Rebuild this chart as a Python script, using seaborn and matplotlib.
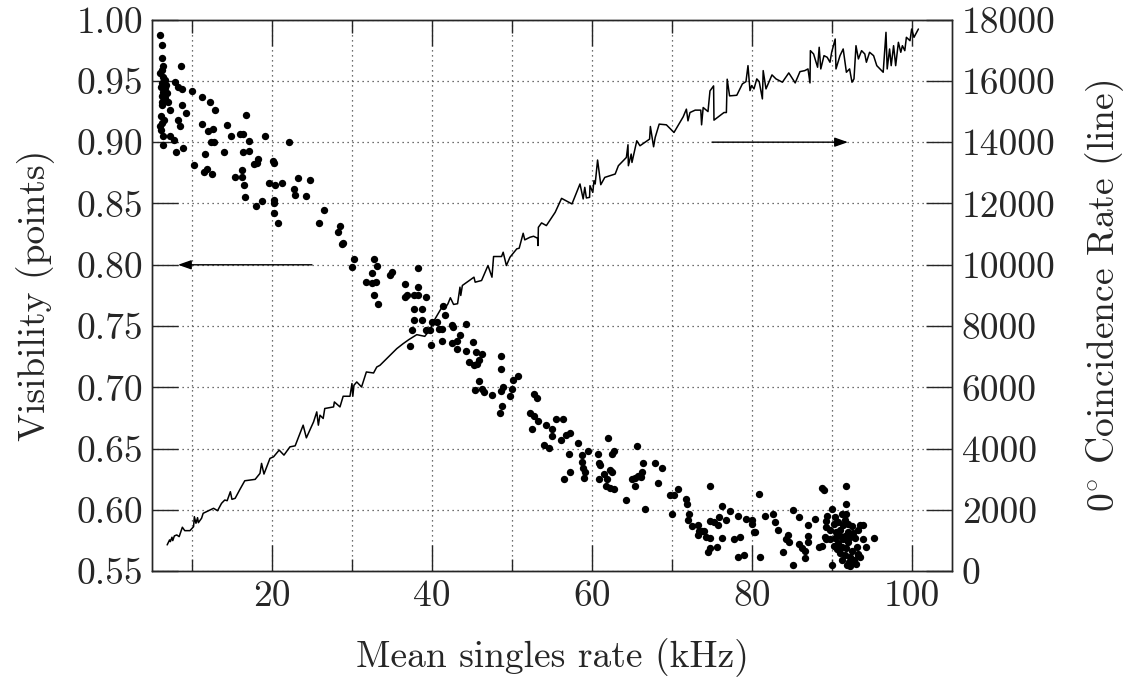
import matplotlib
matplotlib.use("Agg")
import matplotlib.pyplot as plt
import seaborn as sns
from matplotlib.ticker import MultipleLocator, FormatStrFormatter

# Visibility (points)
vis_x = [6.0, 6.3, 6.3, 6.4, 6.2, 6.0, 6.4, 6.6, 6.3, 6.1, 6.6, 6.8, 6.4, 6.2, 6.6, 6.2, 6.5, 6.2, 6.1, 6.5,
         6.2, 6.0, 6.1, 6.4, 6.4, 7.0, 7.25, 6.9, 7.3, 7.7, 8.6, 7.9, 8.3, 8.8, 10.0, 11.2, 12.2, 8.7, 9.3, 12.9,
         8.3, 8.5, 11.2, 12.6, 12.0, 14.4, 16.8, 14.9, 16.0, 16.4, 19.1, 8.0, 8.9, 12.4, 12.7, 14.0, 17.1, 16.4, 17.1, 11.6,
         10.25, 11.5, 11.9, 12.5, 15.4, 16.3, 16.3, 17.75, 18.1, 18.3, 20.1, 20.2, 16.5, 16.6, 18.0, 18.7, 19.6, 20.4, 21.2, 20.2,
         20.3, 20.25, 20.7, 22.75, 22.9, 23.3, 24.3, 24.7, 22.1, 26.5, 25.9, 28.2, 28.5, 28.8, 28.9, 30.3, 30.0, 32.8, 33.1, 32.5,
         31.7, 32.5, 33.0, 32.7, 34.75, 35.0, 36.6, 38.2, 38.2, 36.6, 36.9, 37.7, 38.3, 39.2, 33.2, 37.8, 38.8, 37.75, 38.8, 37.5,
         37.2, 39.3, 39.75, 39.9, 40.0, 40.6, 41.4, 41.6, 40.9, 41.3, 41.25, 42.5, 42.6, 42.5, 43.1, 43.1, 43.5, 44.3, 44.3, 45.1,
         45.5, 46.2, 44.6, 45.25, 45.6, 45.9, 48.6, 48.6, 45.9, 45.4, 46.2, 46.5, 47.5, 48.6, 48.9, 48.8, 48.5, 50.1, 50.8, 50.0,
         49.75, 52.25, 52.8, 53.1, 52.7, 53.2, 52.5, 54.25, 55.0, 55.5, 56.4, 55.0, 56.1, 56.8, 57.25, 54.0, 54.6, 57.1, 58.3, 57.25,
         56.5, 58.8, 58.8, 59.5, 58.9, 59.1, 59.0, 60.7, 60.9, 61.0, 62.0, 62.7, 62.5, 61.5, 60.9, 61.9, 61.8, 62.25, 62.8, 62.2,
         62.5, 64.2, 65.6, 66.4, 65.0, 65.4, 65.7, 66.1, 66.3, 65.4, 66.6, 67.9, 68.2, 68.8, 69.7, 70.3, 70.8, 70.0, 71.8, 71.9,
         72.1, 72.0, 72.5, 73.3, 73.4, 73.7, 74.0, 73.3, 74.3, 74.75, 74.7, 74.7, 75.25, 75.8, 75.9, 76.2, 76.7, 77.2, 78.2, 76.25,
         75.6, 74.7, 74.5, 77.8, 78.5, 78.2, 79.0, 80.9, 79.2, 80.0, 79.96, 80.25, 80.4, 81.0, 81.6, 82.6, 82.9, 83.3, 83.9, 84.5,
         84.25, 84.6, 85.1, 85.1, 85.9, 85.9, 86.2, 86.6, 86.6, 87.0, 87.0, 86.95, 87.9, 88.4, 88.7, 88.8, 89.0, 89.4, 89.3, 89.3,
         89.96, 90.0, 91.8, 91.7, 93.5, 93.9, 93.9, 95.3, 93.3, 91.9, 92.3, 93.0,
         91.2, 91.75, 90.2, 91.4, 92.0, 91.0, 93.3, 89.1, 89.75, 90.4, 91.0, 91.6, 92.25, 92.9, 90.2, 90.6, 91.2, 91.8, 92.5, 93.1,
         91.0, 91.6, 92.25, 93.3, 92.8, 93.5, 92.0, 92.6, 90.8, 89.75, 90.4, 91.6, 92.5, 90.75, 92.0, 91.4, 90.5, 91.25, 92.1, 89.25,
         94.25]
vis_y = [0.987, 0.979, 0.969, 0.962, 0.959, 0.956, 0.953, 0.951, 0.948, 0.945, 0.944, 0.947, 0.941, 0.938, 0.936, 0.933, 0.935, 0.930, 0.921, 0.918,
         0.916, 0.913, 0.910, 0.905, 0.898, 0.933, 0.926, 0.940, 0.905, 0.902, 0.962, 0.949, 0.945, 0.943, 0.942, 0.937, 0.933, 0.930, 0.924, 0.926,
         0.918, 0.913, 0.915, 0.911, 0.909, 0.914, 0.922, 0.905, 0.907, 0.907, 0.905, 0.892, 0.895, 0.900, 0.900, 0.892, 0.901, 0.892, 0.893, 0.890,
         0.881, 0.876, 0.878, 0.874, 0.872, 0.877, 0.872, 0.882, 0.883, 0.886, 0.885, 0.883, 0.865, 0.855, 0.848, 0.852, 0.867, 0.865, 0.867, 0.853,
         0.850, 0.842, 0.834, 0.862, 0.857, 0.871, 0.856, 0.869, 0.900, 0.845, 0.834, 0.827, 0.832, 0.817, 0.818, 0.805, 0.798, 0.805, 0.799, 0.793,
         0.786, 0.785, 0.786, 0.775, 0.792, 0.794, 0.784, 0.797, 0.782, 0.774, 0.775, 0.775, 0.775, 0.774, 0.768, 0.764, 0.764, 0.755, 0.755, 0.747,
         0.734, 0.747, 0.747, 0.735, 0.753, 0.753, 0.766, 0.759, 0.748, 0.748, 0.738, 0.751, 0.749, 0.736, 0.738, 0.731, 0.743, 0.752, 0.730, 0.737,
         0.729, 0.727, 0.721, 0.718, 0.719, 0.722, 0.726, 0.715, 0.705, 0.698, 0.699, 0.696, 0.694, 0.697, 0.700, 0.685, 0.679, 0.706, 0.709, 0.699,
         0.693, 0.679, 0.695, 0.691, 0.677, 0.673, 0.666, 0.669, 0.666, 0.674, 0.674, 0.660, 0.657, 0.661, 0.663, 0.653, 0.651, 0.646, 0.655, 0.631,
         0.625, 0.645, 0.639, 0.648, 0.634, 0.631, 0.626, 0.646, 0.638, 0.637, 0.659, 0.648, 0.646, 0.629, 0.625, 0.625, 0.620, 0.618, 0.617, 0.633,
         0.631, 0.608, 0.652, 0.638, 0.625, 0.626, 0.628, 0.627, 0.631, 0.620, 0.601, 0.638, 0.622, 0.634, 0.612, 0.612, 0.617, 0.597, 0.609, 0.605,
         0.597, 0.592, 0.587, 0.588, 0.583, 0.583, 0.583, 0.580, 0.578, 0.577, 0.620, 0.591, 0.590, 0.588, 0.594, 0.603, 0.592, 0.599, 0.595, 0.577,
         0.570, 0.569, 0.566, 0.576, 0.578, 0.562, 0.563, 0.613, 0.593, 0.592, 0.589, 0.582, 0.582, 0.562, 0.595, 0.597, 0.590, 0.584, 0.566, 0.580,
         0.576, 0.574, 0.555, 0.600, 0.594, 0.572, 0.569, 0.567, 0.561, 0.588, 0.579, 0.574, 0.593, 0.570, 0.571, 0.618, 0.616, 0.595, 0.591, 0.586,
         0.601, 0.555, 0.620, 0.605, 0.588, 0.588, 0.576, 0.577, 0.563, 0.555, 0.554, 0.556,
         0.597, 0.597, 0.589, 0.588, 0.589, 0.584, 0.584, 0.578, 0.576, 0.577, 0.579, 0.579, 0.578, 0.577, 0.571, 0.568, 0.570, 0.569, 0.567, 0.570,
         0.565, 0.563, 0.562, 0.564, 0.559, 0.562, 0.582, 0.581, 0.590, 0.584, 0.594, 0.592, 0.587, 0.573, 0.574, 0.576, 0.582, 0.559, 0.558, 0.576,
         0.570]

# 0 degree coincidence rate (line)
rate_x = [6.9, 7.2, 7.3, 7.5, 7.6, 7.8, 8.1, 8.4, 8.8, 9.1, 9.75, 10.2, 10.3, 10.5, 10.7, 10.8, 11.2, 11.4, 12.25, 12.7,
          13.2, 13.7, 14.1, 14.4, 14.8, 15.0, 15.4, 16.0, 16.6, 17.9, 18.5, 18.7, 19.0, 19.75, 20.2, 20.9, 21.5, 22.25, 22.9, 23.9,
          24.3, 25.2, 25.6, 25.8, 26.0, 26.4, 26.6, 27.7, 27.8, 28.5, 28.9, 29.75, 30.0, 30.1, 30.25, 30.6, 31.2, 31.8, 32.7, 33.1,
          33.5, 34.75, 35.6, 36.4, 37.1, 38.1, 39.1, 39.75, 40.4, 41.0, 41.3, 41.6, 42.0, 42.3, 42.7, 43.2, 43.5, 43.6, 43.8, 45.25,
          45.4, 46.2, 47.0, 47.5, 47.7, 48.7, 48.9, 49.3, 49.75, 50.6, 50.9, 51.4, 51.6, 52.25, 52.7, 53.2, 53.25, 53.3, 53.7, 54.3,
          55.4, 56.2, 57.5, 58.5, 58.9, 59.1, 59.3, 59.7, 59.75, 60.1, 60.25, 60.4, 60.7, 61.1, 61.6, 62.9, 63.3, 64.3, 64.5, 64.55,
          64.9, 65.0, 65.6, 66.0, 67.2, 67.3, 67.7, 67.9, 68.4, 69.3, 70.25, 71.4, 71.8, 72.0, 72.25, 72.9, 73.6, 73.7, 73.9, 74.5,
          74.75, 75.2, 75.25, 76.5, 76.8, 76.9, 77.2, 78.1, 78.8, 79.25, 79.5, 79.75, 79.96, 80.25, 80.6, 80.9, 81.3, 81.4, 81.75, 82.5,
          83.0, 83.8, 84.6, 85.4, 86.0, 86.6, 87.0, 87.25, 87.3, 87.7, 88.2, 88.4, 88.6, 89.0, 89.4, 89.75, 89.96, 90.4, 90.5, 91.0,
          91.4, 91.8, 92.2, 92.5, 92.75, 93.0, 93.3, 93.7, 94.1, 94.3, 94.7, 95.2, 95.6, 96.4, 96.75, 96.9, 97.2, 97.4, 97.7, 97.96,
          98.3, 98.6, 98.8, 99.1, 99.3, 99.75, 99.96, 100.25, 100.8]
rate_y = [863, 1025, 970, 1113, 1003, 1156, 1188, 1133, 1439, 1328, 1328, 1458, 1784, 1569, 1751, 1588, 1732, 1894, 2002, 2057,
          1979, 2220, 2327, 2305, 2598, 2350, 2383, 2676, 2955, 3001, 3196, 3522, 3174, 3685, 3737, 3955, 3792, 4062, 4095, 4769,
          4355, 4876, 5202, 4769, 5094, 4987, 5312, 5364, 5527, 5364, 5712, 5712, 6126, 5712, 6071, 6178, 6015, 6504, 6471, 6666,
          6722, 7047, 7265, 7428, 7558, 7721, 7666, 7884, 8242, 8512, 8642, 8567, 8730, 8925, 8707, 8730, 9270, 9000, 9326, 9596,
          9433, 9488, 9976, 9596, 10270, 10270, 10410, 9976, 10247, 10520, 10540, 11028, 10813, 10898, 10931, 10866, 10628, 11223, 11366, 11279,
          11712, 12167, 11985, 12636, 12148, 12526, 12180, 12200, 12580, 12363, 12744, 12636, 13417, 12613, 12851, 12961, 13232, 13502, 13915, 13232,
          13612, 13339, 14045, 13883, 14100, 14511, 13850, 14153, 14589, 14566, 14316, 14827, 15077, 14696, 14967, 15045, 15045, 14566, 15130, 14999,
          15673, 15836, 14719, 14967, 14967, 16054, 15510, 15530, 15901, 15976, 16496, 15683, 15845, 15738, 16064, 15976, 15412, 16334, 15738, 16194,
          16064, 15956, 16259, 15933, 16301, 16334, 16389, 15933, 16985, 16877, 16444, 17095, 16389, 16822, 16769, 16607, 16932, 17365, 16389, 16822,
          17040, 16281, 16389, 15956, 16064, 17147, 16715, 16985, 16877, 16607, 16932, 16822, 16496, 16281, 17583, 16389, 17040, 16496, 17147, 16496,
          17257, 16932, 17147, 16985, 17420, 17311, 17691, 17420, 17691]

x_major = [20, 40, 60, 80, 100]

FS = 27

sns.set_style("ticks")
plt.rcParams.update({
    "font.family": "serif",
    "font.serif": ["cmr10", "DejaVu Serif"],
    "mathtext.fontset": "cm",
    "axes.unicode_minus": False,
    "axes.linewidth": 1.0,
    "font.size": FS,
})

fig = plt.figure(figsize=(11.34, 6.81), dpi=100)
ax = fig.add_axes([0.134, 0.161, 0.7055, 0.8103])
ax2 = ax.twinx()

sns.scatterplot(x=vis_x, y=vis_y, ax=ax, color="black", s=28, linewidth=0, zorder=3)
sns.lineplot(x=rate_x, y=rate_y, ax=ax2, color="black", lw=1.1, sort=False, estimator=None)

ax.set_xlim(5, 105)
ax.set_ylim(0.55, 1.0)
ax2.set_ylim(0, 18000)

ax.set_xticks(x_major)
ax.xaxis.set_minor_locator(MultipleLocator(10))
ax.yaxis.set_major_locator(MultipleLocator(0.05))
ax.yaxis.set_major_formatter(FormatStrFormatter("%.2f"))
ax2.yaxis.set_major_locator(MultipleLocator(2000))
ax2.yaxis.set_major_formatter(FormatStrFormatter("%d"))

grid_kw = dict(linestyle=(0, (1, 3)), color="0.25", lw=0.9)
ax.grid(True, which="both", axis="x", **grid_kw)
ax.grid(True, which="major", axis="y", **grid_kw)
ax.set_axisbelow(True)

ax.tick_params(axis="x", which="major", direction="in", length=19, width=1, top=True, pad=6, labelsize=FS)
ax.tick_params(axis="x", which="minor", direction="in", length=9, width=1, top=True)
ax.tick_params(axis="y", which="major", direction="in", length=19, width=1, right=False, pad=6, labelsize=FS)
ax2.tick_params(axis="y", which="major", direction="in", length=19, width=1, pad=7, labelsize=FS)

ax.set_xlabel("Mean singles rate (kHz)", fontsize=FS, labelpad=18)
ax.set_ylabel("Visibility (points)", fontsize=FS, labelpad=16)
ax2.set_ylabel(r"$0^{\circ}$ Coincidence Rate (line)", fontsize=FS, labelpad=20)

arrow = dict(arrowstyle="-|>,head_length=0.4,head_width=0.14", color="black", lw=1,
             mutation_scale=20, shrinkA=0, shrinkB=0)
ax.annotate("", xy=(8.25, 0.80), xytext=(25, 0.80), arrowprops=arrow)
ax2.annotate("", xy=(92, 14000), xytext=(75, 14000), arrowprops=arrow)

fig.savefig("out.png", dpi=100)
